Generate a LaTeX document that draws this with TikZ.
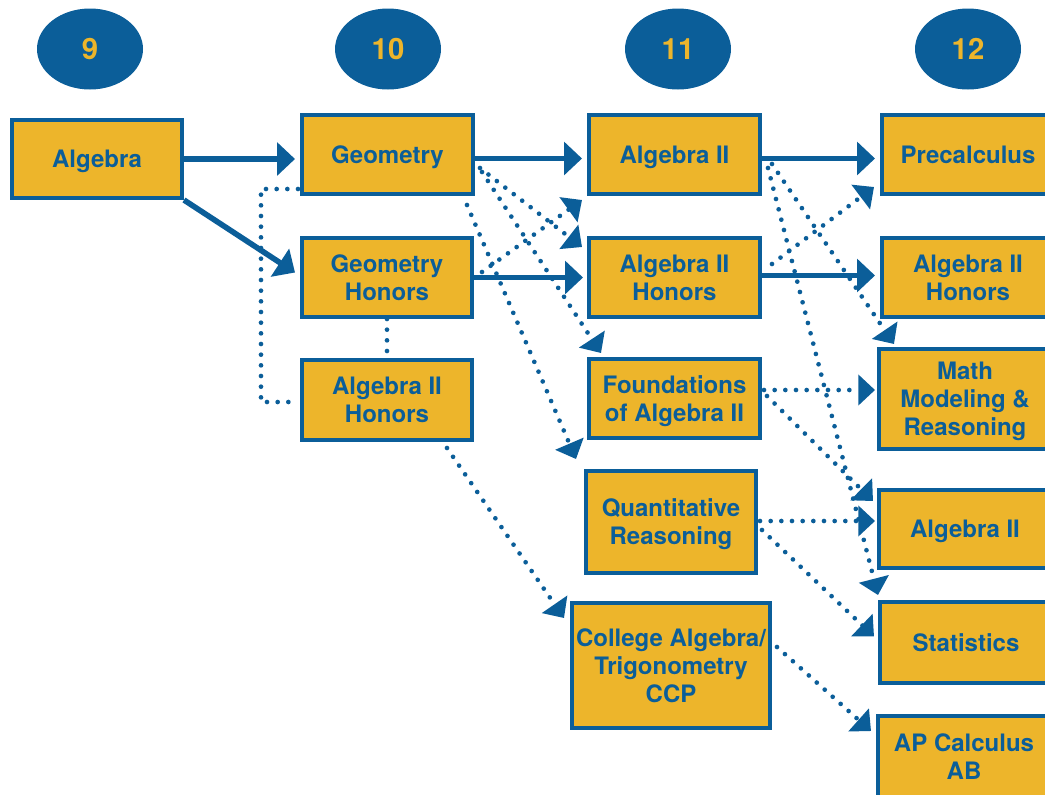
\documentclass[tikz,border=0pt]{standalone}
\usepackage{fontspec}
\setmainfont{TeX Gyre Heros}
\usetikzlibrary{arrows.meta,calc,shapes.geometric}
\definecolor{cblue}{HTML}{0B5E99}
\definecolor{cgold}{HTML}{EDB52B}
\begin{document}
\begin{tikzpicture}[x=0.75pt,y=-0.75pt,
  box/.style={draw=cblue, line width=3pt, fill=cgold, text=cblue,
    font=\bfseries\fontsize{18}{21}\selectfont, align=center, inner sep=0pt, text depth=0pt},
  bx/.style 2 args={box, minimum width=#1*0.75pt-3pt, minimum height=#2*0.75pt-3pt},
  yearoval/.style={ellipse, fill=cblue, text=cgold, font=\bfseries\fontsize{22}{24}\selectfont,
    minimum width=79.5pt, minimum height=60.75pt, inner sep=0pt},
  solidarrow/.style={draw=cblue, line width=4.2pt, -{Triangle[length=13.5pt,width=24.5pt]}},
  dotline/.style={draw=cblue, line width=3.5pt, line cap=round, dash pattern=on 0pt off 8pt},
  dotarrow/.style={dotline, -{Triangle[length=12.5pt,width=22.5pt]}}]
\useasboundingbox (0,0) rectangle (1045,794);
\clip (0,0) rectangle (1045,794);

% year ovals
\node[yearoval] (y9)  at (90,49)  {9};
\node[yearoval] (y10) at (388,49) {10};
\node[yearoval] (y11) at (678,49) {11};
\node[yearoval] (y12) at (968,49) {12};

% boxes
\node[bx={174}{82}]  (alg)   at (97,159)     {Algebra};
\node[bx={175}{83}]  (geo)   at (387.5,154.5) {Geometry};
\node[bx={174}{83}]  (geoh)  at (387,277.5)  {Geometry\\Honors};
\node[bx={174}{84}]  (a2h10) at (387,400)    {Algebra II\\Honors};
\node[bx={175}{83}]  (a2)    at (674.5,154.5) {Algebra II};
\node[bx={175}{83}]  (a2h)   at (674.5,277.5) {Algebra II\\Honors};
\node[bx={175}{83}]  (found) at (674.5,398.5) {Foundations\\of Algebra II};
\node[bx={174}{106}] (qr)    at (671,522)    {Quantitative\\Reasoning};
\node[bx={202}{129}] (cat)   at (671,665.5)  {College Algebra/\\Trigonometry\\CCP};
\node[bx={176}{83}]  (pre)   at (968,154.5)  {Precalculus};
\node[bx={176}{83}]  (a2h12) at (968,277.5)  {Algebra II\\Honors};
\node[bx={176}{104}] (mmr)   at (965,399)    {Math\\Modeling \&\\Reasoning};
\node[bx={176}{82}]  (a212)  at (965,529)    {Algebra II};
\node[bx={176}{85}]  (stat)  at (966,642.5)  {Statistics};
\node[bx={176}{86}]  (apc)   at (964,757)    {AP Calculus\\AB};

% solid arrows
\draw[solidarrow] (alg.east) -- ($(geo.west)+(-5,4.5)$);
\draw[solidarrow] (alg.south east) -- ($(geoh.west)+(-5,-5)$);
\draw[solidarrow] ($(geo.east)+(0,4)$) -- ($(a2.west)+(-5,4)$);
\draw[solidarrow] (geoh.east) -- ($(a2h.west)+(-4,0)$);
\draw[solidarrow] ($(a2.east)+(0,4)$) -- ($(pre.west)+(-5,4)$);
\draw[solidarrow] ($(a2h.east)+(0,-2)$) -- ($(a2h12.west)+(-5,-2)$);

% dotted connectors
\draw[dotline] ($(geo.west)+(-2,34.5)$) -| ($(a2h10.west)+(-39,2)$) -- ($(a2h10.west)+(-2,2)$);
\draw[dotline] (geoh.south) -- (a2h10.north);
\draw[dotarrow] ($(geo.east)+(5,13.5)$) -- ($(a2h.west)+(-5,-30.5)$);
\draw[dotarrow] ($(geo.east)+(7,17.5)$) -- ($(found.north west)+(14,-4)$);
\draw[dotarrow] ($(geo.south east)+(-8,9)$) -- ($(qr.north west)+(-8,-10)$);
\draw[dotarrow] ($(geoh.east)+(8,-5.5)$) -- ($(a2.south west)+(-5,4)$);
\draw[dotarrow] ($(a2h10.south east)+(-27,6)$) -- ($(cat.north west)+(-6,17)$);
\draw[dotarrow] ($(a2.east)+(10,9.5)$) -- ($(mmr.north west)+(17,-3)$);
\draw[dotarrow] ($(a2.east)+(6,13.5)$) -- ($(stat.north west)+(0,-5)$);
\draw[dotarrow] ($(a2h.east)+(10,-13.5)$) -- ($(pre.south west)+(-6,-9)$);
\draw[dotarrow] ($(found.east)+(2,-8.5)$) -- ($(mmr.west)+(-2,-9)$);
\draw[dotarrow] ($(found.east)+(5,-2.5)$) -- ($(a212.north west)+(-4,13)$);
\draw[dotarrow] ($(qr.east)+(2,-1)$) -- ($(a212.west)+(-2,-8)$);
\draw[dotarrow] ($(qr.east)+(4,8)$) -- ($(stat.west)+(-4,-6)$);
\draw[dotarrow] ($(cat.east)+(5,-18.5)$) -- ($(apc.north west)+(-5,17)$);
\end{tikzpicture}
\end{document}
